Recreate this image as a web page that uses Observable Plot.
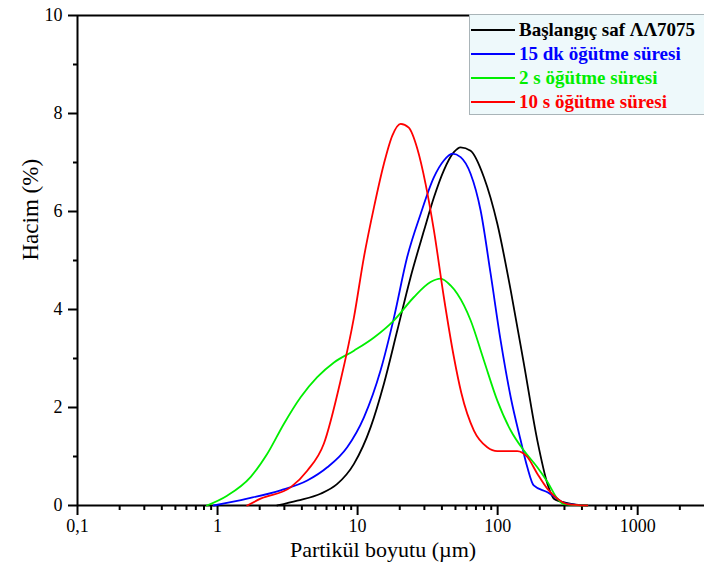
<!DOCTYPE html>
<html><head><meta charset="utf-8">
<script src="https://cdn.jsdelivr.net/npm/d3@7"></script>
<script src="https://cdn.jsdelivr.net/npm/@observablehq/plot@0.6"></script>
<style>
body{margin:0;background:#fff}
#wrap{position:relative;width:704px;height:569px;overflow:hidden}
#wrap svg text{font-family:"Liberation Serif","DejaVu Serif",serif}
.legend{position:absolute;left:469px;top:14px;width:250px;height:101px;background:#eef9fb;border:1px solid #a9b4b8;box-sizing:border-box;font-family:"Liberation Serif","DejaVu Serif",serif;font-weight:bold;font-size:19px}
.row{position:absolute;left:1px;height:24px;display:flex;align-items:center;white-space:nowrap}
.row svg{margin-right:4px}
</style></head><body><div id="wrap"></div>
<script>
// ---- data ----
const seriesNames = ["Başlangıç saf ΛΛ7075", "15 dk öğütme süresi", "2 s öğütme süresi", "10 s öğütme süresi"];
const seriesColors = ["#000000", "#0000ff", "#00ee00", "#ff0000"];

const blackX = [2.67,3.71,5.44,7.16,9.42,12.4,15.4,19.2,23.9,29.8,35.1,41.3,48.7,54.4,64.1,79.8,99.5,124,154,192,227,252,315,437];
const blackY = [0,0.10,0.24,0.44,0.85,1.60,2.48,3.57,4.66,5.61,6.29,6.84,7.21,7.31,7.24,6.70,5.75,4.39,2.89,1.33,0.44,0.14,0.05,0];

const blueX = [0.94,1.63,2.82,4.37,6.08,8.43,11.1,14.6,18.2,22.6,28.2,35.1,41.3,47.5,54.4,64.1,75.6,89.1,105,124,146,163,181,227,267,297,437];
const blueY = [0,0.14,0.31,0.51,0.78,1.19,1.80,2.76,3.84,5.07,5.95,6.70,7.04,7.18,7.11,6.77,6.02,4.73,3.37,2.21,1.33,0.78,0.41,0.27,0.14,0.05,0];

const greenX = [0.84,1.17,1.72,2.26,2.98,3.92,5.15,6.78,9.42,13.1,18.2,25.2,33.2,39.1,46.1,51.5,64.1,79.8,99.5,124,154,192,227,267,297,437];
const greenY = [0,0.20,0.58,1.05,1.67,2.21,2.62,2.92,3.16,3.43,3.78,4.25,4.56,4.63,4.49,4.32,3.78,2.96,2.14,1.53,1.12,0.78,0.48,0.14,0.03,0];

const redX = [1.63,2.03,3.32,4.37,5.74,7.56,9.42,11.1,13.1,15.4,17.7,20.3,23.2,26.7,30.6,35.1,41.3,48.7,55,67.7,84.3,99.5,138,163,192,227,267,315,437];
const redY = [0,0.14,0.37,0.71,1.26,2.55,3.84,5.07,6.09,6.97,7.55,7.79,7.71,7.28,6.56,5.61,4.25,3.03,2.3,1.53,1.19,1.11,1.11,0.99,0.65,0.34,0.14,0.03,0];

const majorX = [0.1, 1, 10, 100, 1000];
const xTickLabels = ["0,1", "1", "10", "100", "1000"];
const minorX = [0.2,0.3,0.4,0.5,0.6,0.7,0.8,0.9,2,3,4,5,6,7,8,9,20,30,40,50,60,70,80,90,200,300,400,500,600,700,800,900,2000];
const majorY = [0, 2, 4, 6, 8, 10];
const minorY = [1, 3, 5, 7, 9];
const xTitle = "Partikül boyutu (µm)";
const yTitle = "Hacim (%)";

// ---- table ----
const xs = [blackX, blueX, greenX, redX];
const ys = [blackY, blueY, greenY, redY];
const data = xs.flatMap((arr, i) => arr.map((x, j) => ({size: x, vol: ys[i][j], series: seriesNames[i], color: seriesColors[i]})));

const chart = Plot.plot({
  width: 704, height: 569,
  marginLeft: 77, marginRight: 0, marginTop: 15, marginBottom: 64,
  style: "font-family: 'Liberation Serif', 'DejaVu Serif', serif; font-size: 18px; background: transparent; color: #000;",
  x: {type: "log", domain: [0.1, 3000], axis: null},
  y: {domain: [0, 10], axis: null},
  marks: [
    Plot.axisX({ticks: majorX, tickSize: 10, tickPadding: 4, tickFormat: d => xTickLabels[majorX.indexOf(d)], strokeWidth: 2, fontSize: 18, label: null}),
    Plot.axisX({ticks: minorX, tickSize: 5, tickFormat: () => "", strokeWidth: 2, label: null}),
    Plot.axisY({ticks: majorY, tickSize: 9, tickPadding: 6, strokeWidth: 2, fontSize: 18, label: null}),
    Plot.axisY({ticks: minorY, tickSize: 4, tickFormat: () => "", strokeWidth: 2, label: null}),
    Plot.ruleY([0, 10], {strokeWidth: 2}),
    Plot.ruleX([0.1], {strokeWidth: 2}),
    Plot.line(data, {x: "size", y: "vol", z: "series", stroke: "color", strokeWidth: 1.8, curve: "monotone-x"}),
    Plot.text([xTitle], {text: d => d, frameAnchor: "bottom", dy: 51, dx: -8, fontSize: 22}),
    Plot.text([yTitle], {text: d => d, frameAnchor: "left", dx: -47, rotate: -90, fontSize: 23})
  ]
});

const wrap = document.getElementById("wrap");
wrap.appendChild(chart);

// legend
const leg = document.createElement("div");
leg.className = "legend";
seriesNames.forEach((name, i) => {
  const row = document.createElement("div");
  row.className = "row";
  row.style.top = (3 + i * 24) + "px";
  row.innerHTML = `<svg width="44" height="4"><line x1="0" x2="44" y1="2" y2="2" stroke="${seriesColors[i]}" stroke-width="2"/></svg><span style="color:${seriesColors[i]}">${name}</span>`;
  leg.appendChild(row);
});
wrap.appendChild(leg);
</script></body></html>
